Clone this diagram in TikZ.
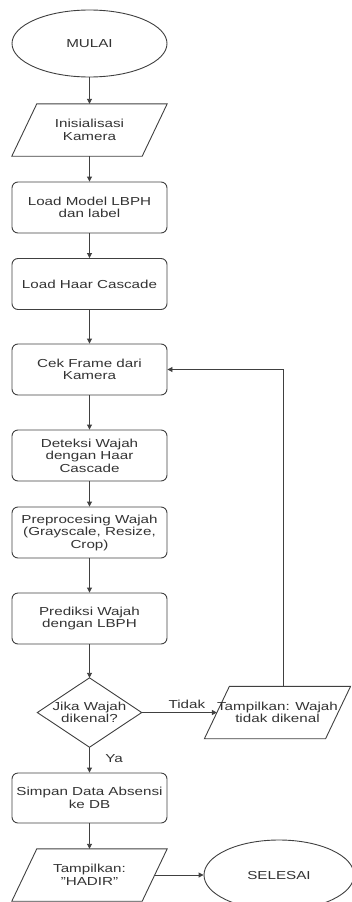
\documentclass[tikz,border=0pt]{standalone}
\usepackage{fontspec}
\setmainfont{Liberation Sans}[FakeStretch=1.31]
\usetikzlibrary{arrows.meta,shapes.geometric}
\tikzset{box/.append style={draw=black!75, line width=0.9pt, rounded corners=6pt, minimum width=155pt, minimum height=51pt, align=center, text=black!80}}
\tikzset{term/.append style={draw=black!75, line width=0.9pt, ellipse, align=center, text=black!80}}
\tikzset{io/.style={minimum width=#1, minimum height=52pt, inner sep=0pt, align=center, text=black!80,
  append after command={\pgfextra{\draw[draw=black!75, line width=0.9pt] ([xshift=12.5pt]\tikzlastnode.north west) -- ([xshift=12.5pt]\tikzlastnode.north east) -- ([xshift=-12.5pt]\tikzlastnode.south east) -- ([xshift=-12.5pt]\tikzlastnode.south west) -- cycle;}}}}
\tikzset{dec/.style={minimum width=104pt, minimum height=69pt, inner sep=0pt, align=center, text=black!80,
  append after command={\pgfextra{\draw[draw=black!75, line width=0.9pt] (\tikzlastnode.north) -- (\tikzlastnode.east) -- (\tikzlastnode.south) -- (\tikzlastnode.west) -- cycle;}}}}
\tikzset{flow/.append style={draw=black!75, line width=0.9pt, -{Triangle[length=5pt,width=5pt]}}}

\begin{document}
\begin{tikzpicture}[x=1pt, y=-1pt, font=\fontsize{11.6}{12.5}\selectfont]
                \useasboundingbox (0,0) rectangle (352,902);
                \clip (0,0) rectangle (352,902);
                % main column
                \node[term, minimum width=155pt, minimum height=67pt] (mulai) at (89.5,43.5) {MULAI};
                \node[io=130pt] (kamera) at (89.5,130) {Inisialisasi\\Kamera};
                \node[box] (model) at (89.5,207.5) {Load Model LBPH\\dan label};
                \node[box] (haar) at (89.5,284) {Load Haar Cascade};
                \node[box] (cek) at (89.5,369.5) {Cek Frame dari\\Kamera};
                \node[box] (deteksi) at (89.5,455.5) {Deteksi Wajah\\dengan Haar\\Cascade};
                \node[box] (prepro) at (89.5,532.5) {Preprocesing Wajah\\(Grayscale, Resize,\\Crop)};
                \node[box] (prediksi) at (89.5,618.5) {Prediksi Wajah\\dengan LBPH};
                \node[dec] (kenal) at (89.5,712.5) {Jika Wajah\\dikenal?};
                \node[io=120pt] (gagal) at (277.5,712.5) {Tampilkan: Wajah\\tidak dikenal};
                \node[box, minimum height=50pt] (simpan) at (89.5,798) {Simpan Data Absensi\\ke DB};
                \node[io=130pt] (hadir) at (89.5,875) {Tampilkan:\\"HADIR"};
                \node[term, minimum width=150pt, minimum height=70pt] (selesai) at (279,875) {SELESAI};
                \path (mulai) edge[flow] (kamera);
                \path (kamera) edge[flow] (model);
                \path (model) edge[flow] (haar);
                \path (haar) edge[flow] (cek);
                \path (cek) edge[flow] (deteksi);
                \path (deteksi) edge[flow] (prepro);
                \path (prepro) edge[flow] (prediksi);
                \path (prediksi) edge[flow] (kenal);
                \path (kenal) edge[flow] node[above, pos=0.6, text=black!80]{Tidak} (gagal);
                \path (kenal) edge[flow] node[right, xshift=12pt, pos=0.45, text=black!80]{Ya} (simpan);
                \path (simpan) edge[flow] (hadir);
                \path (hadir) edge[flow] (selesai);
                \draw[flow] ([xshift=5.5pt]gagal.north) |- (cek.east);
            \end{tikzpicture}
\end{document}
